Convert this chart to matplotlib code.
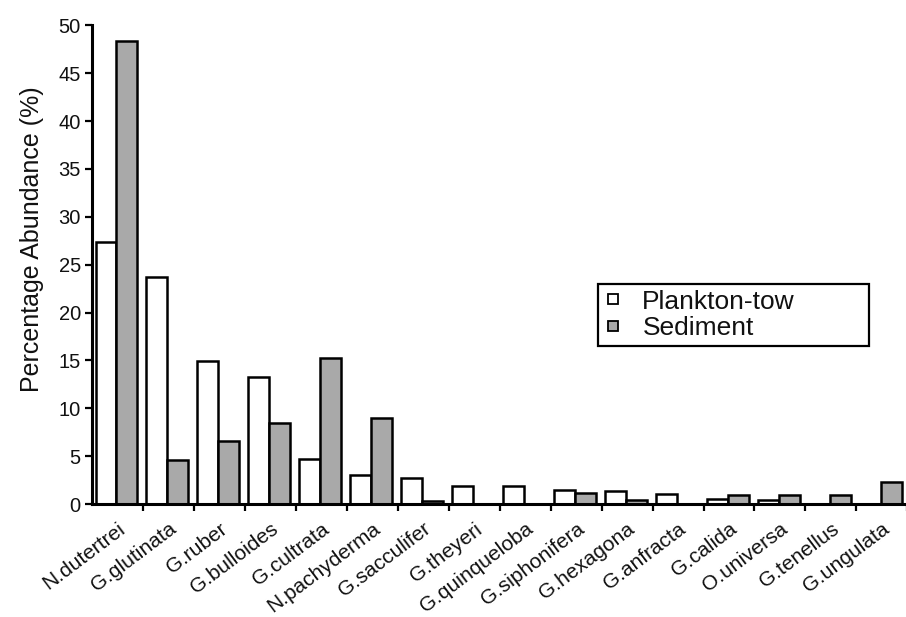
import matplotlib
matplotlib.use("Agg")
import matplotlib.pyplot as plt
import numpy as np
from matplotlib.lines import Line2D

species = ["N.dutertrei", "G.glutinata", "G.ruber", "G.bulloides", "G.cultrata",
           "N.pachyderma", "G.sacculifer", "G.theyeri", "G.quinqueloba",
           "G.siphonifera", "G.hexagona", "G.anfracta", "G.calida",
           "O.universa", "G.tenellus", "G.ungulata"]
plankton = [27.4, 23.7, 14.9, 13.3, 4.7, 3.0, 2.7, 1.9, 1.9, 1.45, 1.4, 1.1,
            0.55, 0.4, 0.0, 0.0]
sediment = [48.4, 4.6, 6.6, 8.5, 15.3, 9.0, 0.35, 0.0, 0.0, 1.2, 0.45, 0.0,
            1.0, 1.0, 1.0, 2.3]
yticks = [0, 5, 10, 15, 20, 25, 30, 35, 40, 45, 50]

plt.rcParams['font.family'] = ['Liberation Sans', 'DejaVu Sans']

fig = plt.figure(figsize=(9.06, 6.17), dpi=100)
ax = fig.add_axes([0.1015, 0.183, 0.90, 0.776])

x = np.arange(len(species))
w = 0.41
ax.bar(x - 0.225, plankton, width=w, color='white', edgecolor='black', linewidth=1.8)
ax.bar(x + 0.185, sediment, width=w, color='#a9a9a9', edgecolor='black', linewidth=1.8)

ax.set_xlim(-0.5, len(species) - 0.5)
ax.set_ylim(0, 50)
ax.set_yticks(yticks)
ax.set_yticklabels([str(v) for v in yticks], fontsize=14.5, color='#111111')
ax.set_xticks(x + 0.5)
ax.set_xticklabels([])
ax.set_xticks(x, minor=True)
ax.set_xticklabels(species, minor=True, rotation=37, ha='right', va='top',
                   rotation_mode='anchor', fontsize=15, color='#111111')
ax.tick_params(axis='x', which='minor', length=0, pad=11)
ax.tick_params(axis='x', which='major', length=5, width=1.6, direction='out')
ax.tick_params(axis='y', length=5, width=1.6, direction='out', pad=3)

for s in ['top', 'right']:
    ax.spines[s].set_visible(False)
ax.spines['left'].set_linewidth(2.2)
ax.spines['bottom'].set_linewidth(2.2)

ax.set_ylabel("Percentage Abundance (%)", fontsize=18, color='#111111')
ax.yaxis.set_label_coords(-0.059, 0.553)

handles = [Line2D([], [], marker='s', linestyle='none', markersize=6.5,
                  markerfacecolor='white', markeredgecolor='black', markeredgewidth=1.3),
           Line2D([], [], marker='s', linestyle='none', markersize=6.5,
                  markerfacecolor='#a9a9a9', markeredgecolor='black', markeredgewidth=1.3)]
leg = ax.legend(handles, ["Plankton-tow", "Sediment"], loc='center',
                bbox_to_anchor=(0.62, 0.322, 0.333, 0.146), mode='expand',
                fontsize=19, frameon=True, fancybox=False, edgecolor='black',
                handlelength=0.8, handletextpad=0.7, borderpad=0.2,
                borderaxespad=0, labelspacing=0.1, framealpha=1)
leg.get_frame().set_linewidth(1.6)
for t in leg.get_texts():
    t.set_color('#111111')

fig.savefig("out.png", dpi=100)
